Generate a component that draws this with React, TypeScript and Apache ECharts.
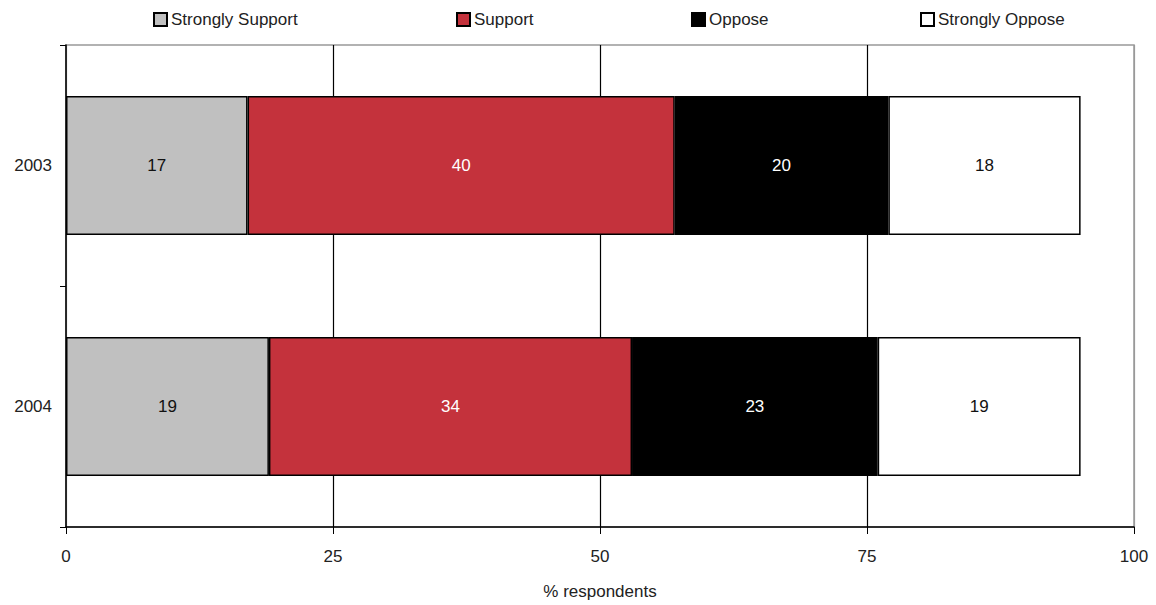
import React, { useEffect, useRef } from "react";
import * as echarts from "echarts";

const years = ["2003", "2004"];
const stronglySupport = [17, 19];
const support = [40, 34];
const oppose = [20, 23];
const stronglyOppose = [18, 19];
const xTicks = [0, 25, 50, 75, 100];

const FONT = "'Liberation Sans', Arial, sans-serif";
const FS = 17;
const TXT = "#222";

export default function App() {
  const ref = useRef<HTMLDivElement>(null);
  useEffect(() => {
    if (!ref.current) return;
    const chart = echarts.init(ref.current, undefined, { renderer: "svg" });
    const mkSeries = (name: string, data: number[], color: string, labelColor: string) => ({
      name,
      type: "bar",
      stack: "total",
      data,
      barWidth: 139,
      itemStyle: { color, borderColor: "#000", borderWidth: 1.5 },
      label: {
        show: true,
        position: "inside",
        color: labelColor,
        fontFamily: FONT,
        fontSize: FS,
      },
    });
    const legendItem = (name: string, left: number) => ({
      data: [name],
      left,
      top: 11,
      icon: "rect",
      itemWidth: 13,
      itemHeight: 13,
      itemGap: 0,
      textStyle: { fontFamily: FONT, fontSize: FS, color: TXT, padding: [0, 0, 0, -1] },
      padding: 0,
    });
    chart.setOption({
      animation: false,
      color: ["#c0c0c0", "#c4323c", "#000000", "#ffffff"],
      legend: [
        legendItem("Strongly Support", 153),
        legendItem("Support", 456),
        legendItem("Oppose", 691),
        legendItem("Strongly Oppose", 920),
      ],
      grid: {
        left: 66,
        right: 22,
        top: 45,
        bottom: 75,
        show: true,
        borderColor: "#999",
        borderWidth: 1.5,
        backgroundColor: "transparent",
      },
      xAxis: {
        type: "value",
        min: 0,
        max: 100,
        interval: 25,
        name: "% respondents",
        nameLocation: "middle",
        nameGap: 56,
        nameTextStyle: { fontFamily: FONT, fontSize: FS, color: TXT },
        axisLine: { show: true, lineStyle: { color: "#000", width: 1.5 } },
        axisTick: { show: true, length: 7, lineStyle: { color: "#000", width: 1 } },
        axisLabel: {
          fontFamily: FONT,
          fontSize: FS,
          color: TXT,
          margin: 21,
          formatter: (v: number) => (xTicks.includes(v) ? String(v) : ""),
        },
        splitLine: {
          show: true,
          lineStyle: { color: ["#999", "#000", "#000", "#000", "#999"], width: 1.2 },
        },
      },
      yAxis: {
        type: "category",
        data: years,
        inverse: true,
        axisLine: { show: true, lineStyle: { color: "#000", width: 1.5 } },
        axisTick: { show: true, length: 6, interval: 0, lineStyle: { color: "#000", width: 1 } },
        axisLabel: { fontFamily: FONT, fontSize: FS, color: TXT, margin: 14 },
        splitLine: { show: false },
      },
      series: [
        mkSeries("Strongly Support", stronglySupport, "#c0c0c0", "#111"),
        mkSeries("Support", support, "#c4323c", "#fff"),
        mkSeries("Oppose", oppose, "#000000", "#fff"),
        mkSeries("Strongly Oppose", stronglyOppose, "#ffffff", "#111"),
      ],
    });
    return () => chart.dispose();
  }, []);
  return <div ref={ref} style={{ width: 1156, height: 605, position: "absolute", left: 0, top: 0 }} />;
}
